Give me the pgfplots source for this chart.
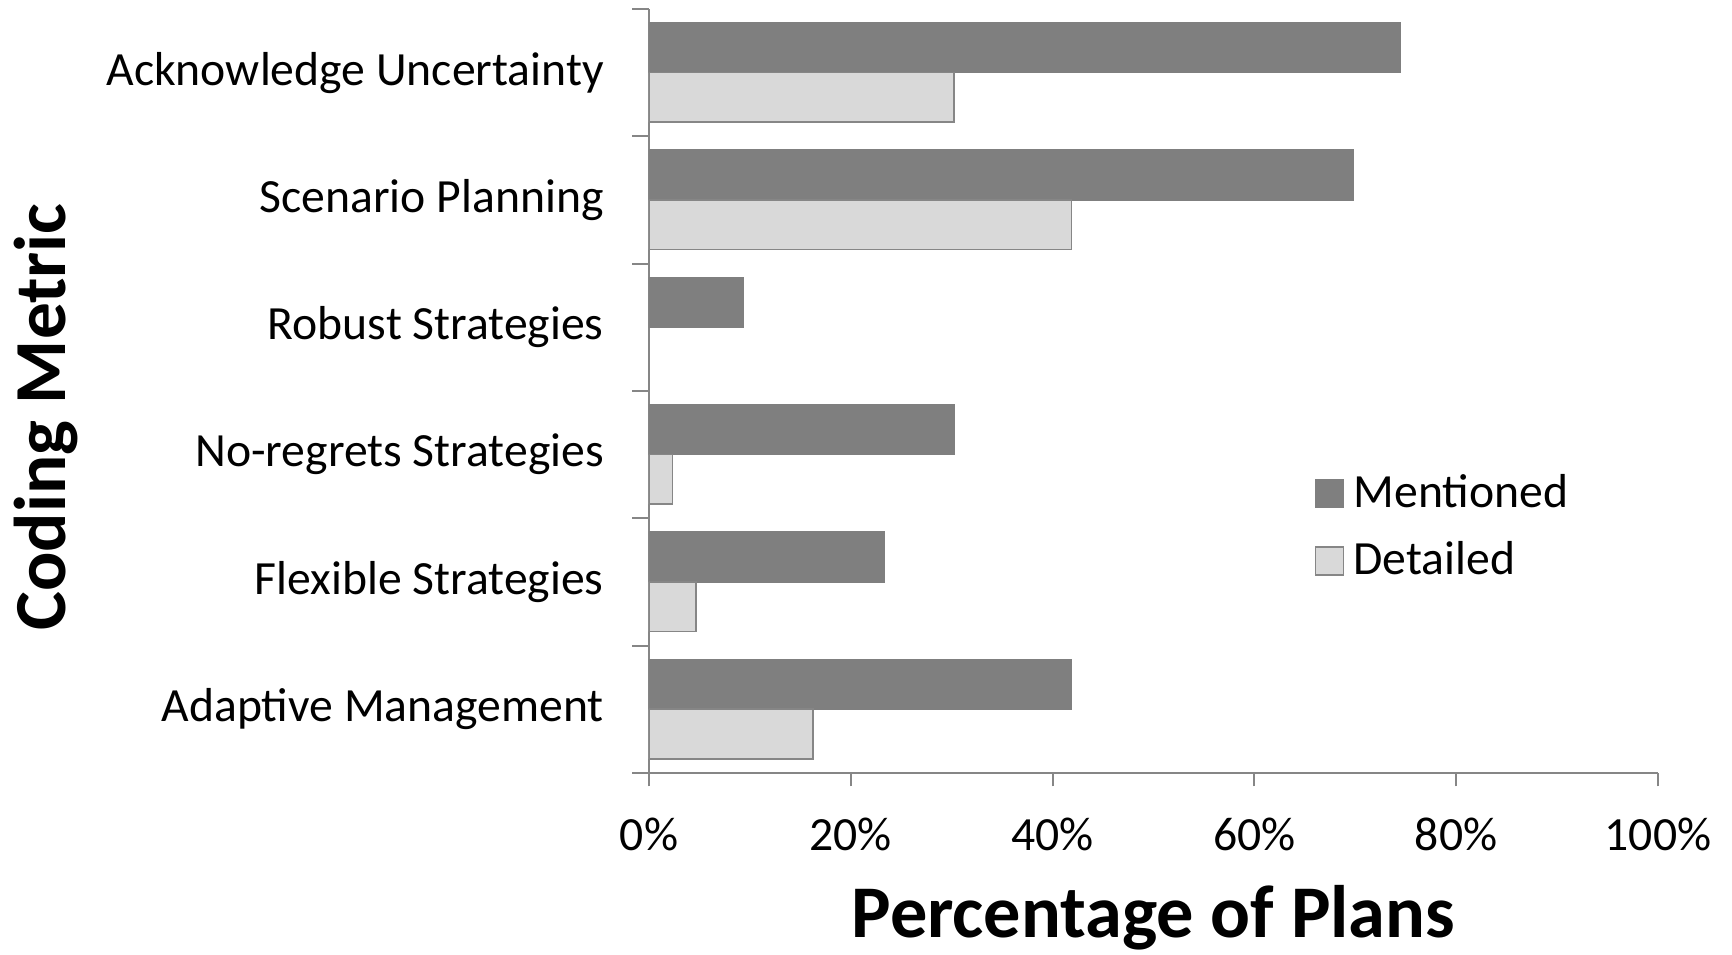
\documentclass[border=0pt]{standalone}
\usepackage{fontspec}
\setmainfont{Carlito}
\usepackage{pgfplots}
\pgfplotsset{compat=1.18}
\definecolor{mentioned}{HTML}{7F7F7F}
\definecolor{detailed}{HTML}{D9D9D9}
\definecolor{axisgray}{HTML}{868686}
\begin{document}
\begin{tikzpicture}
\begin{axis}[
  scale only axis, width=302.7pt, height=229.2pt,
  xbar, bar width=0.39,
  xmin=0, xmax=100, ymin=-0.5, ymax=5.5,
  axis x line*=bottom, axis y line*=left,
  axis line style={axisgray, line width=0.6pt, -},
  xtick={0,20,40,60,80,100},
  xticklabels={0\%,20\%,40\%,60\%,80\%,100\%},
  ytick={0,1,2,3,4,5},
  yticklabels={Adaptive Management, Flexible Strategies, No-regrets Strategies, Robust Strategies, Scenario Planning, Acknowledge Uncertainty},
  minor ytick={-0.5,0.5,1.5,2.5,3.5,4.5,5.5},
  tick align=outside,
  major tick length=4pt, minor tick length=5pt,
  major y tick style={draw=none},
  minor y tick style={axisgray, line width=0.6pt},
  major x tick style={axisgray, line width=0.6pt},
  tick label style={font=\fontsize{14.3}{17}\selectfont},
  yticklabel style={anchor=east, inner sep=0pt, xshift=-9.4pt},
  xticklabel style={anchor=base, inner sep=0pt, yshift=-19.2pt},
  xlabel={Percentage of Plans},
  ylabel={Coding Metric},
  xlabel style={font=\fontsize{22.3}{26}\selectfont\bfseries, at={(axis description cs:0.5,0)}, anchor=base, inner sep=0pt, yshift=-49.4pt},
  ylabel style={font=\fontsize{22}{26}\selectfont\bfseries, at={(axis description cs:-0.578,0.466)}, anchor=base, inner sep=0pt},
  legend style={draw=none, fill=none, at={(0.659,0.398)}, anchor=north west, inner sep=0pt,
    font=\fontsize{14.3}{17}\selectfont, row sep=5.7pt,
    nodes={inner sep=1.5pt},
    /tikz/every odd column/.append style={column sep=1.3pt}},
  legend cell align=left,
  legend image code/.code={\draw[#1] (0pt,-4.2pt) rectangle (8.4pt,4.2pt);},
]
\addplot[fill=mentioned, draw=mentioned, line width=0.5pt, bar shift=0.195]
  coordinates {(41.86,0) (23.26,1) (30.23,2) (9.30,3) (69.77,4) (74.42,5)};
\addplot[fill=detailed, draw=axisgray, line width=0.5pt, bar shift=-0.195]
  coordinates {(16.28,0) (4.65,1) (2.33,2) (41.86,4) (30.23,5)};
\legend{Mentioned, Detailed}
\end{axis}
\pgfresetboundingbox
\path[use as bounding box] ([xshift=-194.7pt, yshift=-54.6pt]current axis.south west) rectangle ([xshift=22.2pt, yshift=2.7pt]current axis.north east);
\end{tikzpicture}
\end{document}
